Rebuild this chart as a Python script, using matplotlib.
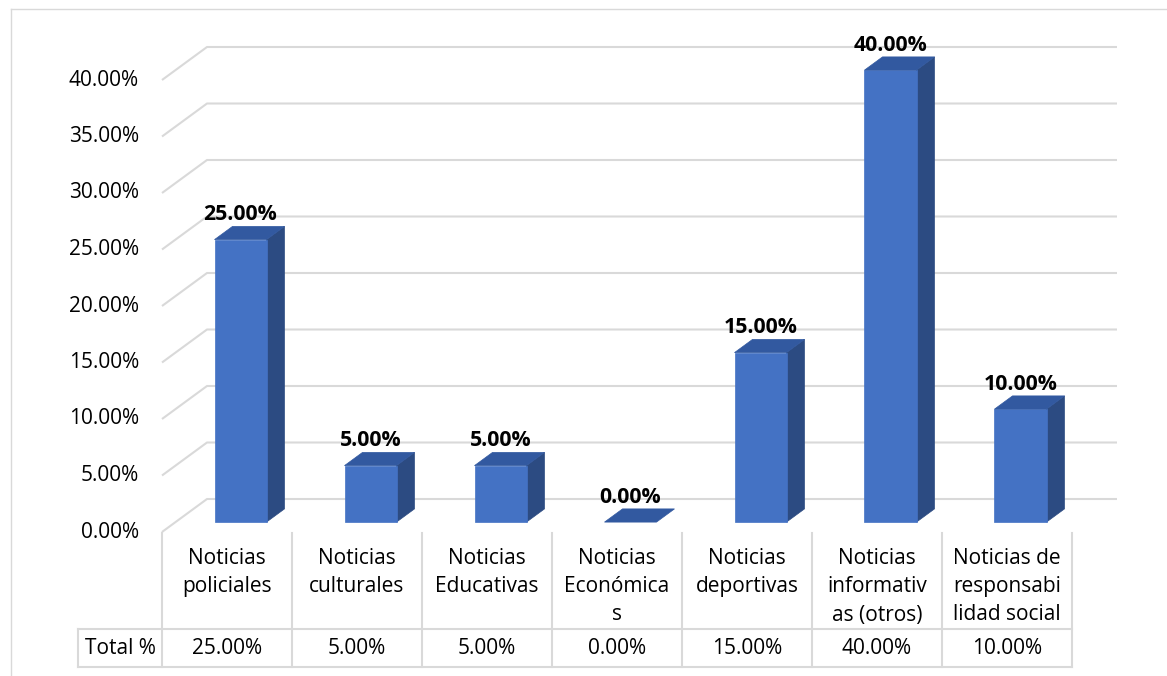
import matplotlib.pyplot as plt
from matplotlib.patches import Polygon
from matplotlib.lines import Line2D
from matplotlib.transforms import offset_copy

plt.rcParams['font.family'] = ['Open Sans', 'DejaVu Sans']

# datos
categorias = ["Noticias\npoliciales", "Noticias\nculturales", "Noticias\nEducativas",
              "Noticias\nEconómica\ns", "Noticias\ndeportivas",
              "Noticias\ninformativ\nas (otros)", "Noticias de\nresponsabi\nlidad social"]
porcentajes = [25.0, 5.0, 5.0, 0.0, 15.0, 40.0, 10.0]
ticks_y = [0, 5, 10, 15, 20, 25, 30, 35, 40]
fila_tabla = "Total %"

W, H = 1167, 676
fig = plt.figure(figsize=(W / 100, H / 100), dpi=100)

# efecto 3D: desplazamiento oblicuo del fondo (en unidades de datos)
DX = 45 / 130
DY = 33 / 11.3
d0, d1 = 0.3, 0.7
ancho = 0.4

gris = '#D9D9D9'
c_frente = '#4472C4'
c_lado = '#2C4B82'
c_tapa = '#3259A0'
fs = 15

ax = fig.add_axes([162 / W, (H - 532) / H, (1117 - 162) / W, 512 / H])
ax.set_xlim(-0.5, 6.5 + DX)
ax.set_ylim(0, 512 / 11.3)
ax.axis('off')

# lineas de division (pared izquierda + fondo)
for v in ticks_y:
    ax.plot([-0.5, -0.5 + DX, 6.5 + DX], [v, v + DY, v + DY], color=gris, lw=1.5,
            zorder=1, clip_on=False, solid_capstyle='butt')
    t = offset_copy(ax.transData, fig=fig, x=-23, y=0, units='dots')
    ax.text(-0.5, v, f"{v:.2f}%", transform=t, ha='right', va='center',
            fontsize=fs, color='#000000')

# barras
for i, v in enumerate(porcentajes):
    x0 = i - ancho / 2
    x1 = i + ancho / 2
    lado = [(x1 + d0 * DX, d0 * DY), (x1 + d1 * DX, d1 * DY),
            (x1 + d1 * DX, v + d1 * DY), (x1 + d0 * DX, v + d0 * DY)]
    tapa = [(x0 + d0 * DX, v + d0 * DY), (x1 + d0 * DX, v + d0 * DY),
            (x1 + d1 * DX, v + d1 * DY), (x0 + d1 * DX, v + d1 * DY)]
    frente = [(x0 + d0 * DX, d0 * DY), (x1 + d0 * DX, d0 * DY),
              (x1 + d0 * DX, v + d0 * DY), (x0 + d0 * DX, v + d0 * DY)]
    if v > 0:
        ax.add_patch(Polygon(lado, closed=True, fc=c_lado, ec=c_lado, lw=0.5, zorder=3))
        ax.add_patch(Polygon(frente, closed=True, fc=c_frente, ec=c_frente, lw=0.5, zorder=3))
    ax.add_patch(Polygon(tapa, closed=True, fc=c_tapa, ec=c_tapa, lw=0.5, zorder=3))
    t = offset_copy(ax.transData, fig=fig, x=0, y=25, units='dots')
    ax.text(i + d0 * DX, v + d0 * DY, f"{v:.2f}%", transform=t, ha='center',
            va='center', fontsize=15.3, fontweight='bold', color='#000000', zorder=5)

# tabla de datos
axt = fig.add_axes([78 / W, (H - 668) / H, (1072 - 78) / W, 136 / H])
x_izq = -0.5 - 84 / 130
axt.set_xlim(x_izq, 6.5)
axt.set_ylim(136, 0)
axt.axis('off')

n = len(categorias)
for k in range(n + 1):
    axt.plot([k - 0.5, k - 0.5], [1, 135], color=gris, lw=1.5, clip_on=False)
axt.plot([x_izq, x_izq], [97, 135], color=gris, lw=1.5, clip_on=False)
for yy in (97, 135):
    axt.plot([x_izq, 6.5], [yy, yy], color=gris, lw=1.5, clip_on=False)

for i, cat in enumerate(categorias):
    for j, linea in enumerate(cat.split("\n")):
        axt.text(i, 26 + 28.5 * j, linea, ha='center', va='center', fontsize=fs)
    axt.text(i, 116, f"{porcentajes[i]:.2f}%", ha='center', va='center', fontsize=fs)
axt.text((x_izq - 0.5) / 2, 116, fila_tabla, ha='center', va='center', fontsize=fs)

# borde del grafico
fig.add_artist(Line2D([11 / W, 11 / W], [0, 1 - 9 / H], color=gris, lw=1))
fig.add_artist(Line2D([11 / W, 1], [1 - 9 / H, 1 - 9 / H], color=gris, lw=1))

fig.savefig("out.png", dpi=100, facecolor='white')
